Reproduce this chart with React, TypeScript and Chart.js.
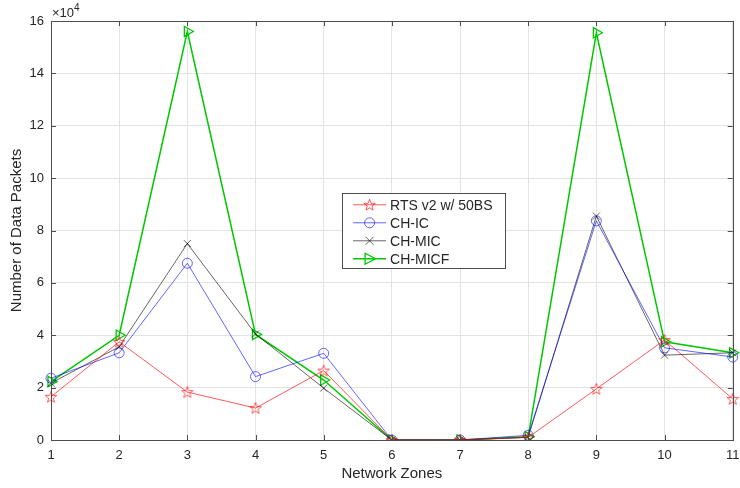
import React, { useEffect, useRef } from "react";
import { Chart, registerables } from "chart.js";
Chart.register(...registerables);

const zones = ["1", "2", "3", "4", "5", "6", "7", "8", "9", "10", "11"];
const rtsV2 = [1.65, 3.75, 1.83, 1.22, 2.65, 0, 0, 0.1, 1.95, 3.82, 1.57];
const chIC = [2.36, 3.33, 6.75, 2.42, 3.31, 0, 0, 0.18, 8.37, 3.52, 3.17];
const chMIC = [2.17, 3.56, 7.5, 4.05, 1.98, 0, 0, 0.1, 8.55, 3.24, 3.33];
const chMICF = [2.23, 4.0, 15.6, 4.03, 2.29, 0, 0, 0.12, 15.55, 3.75, 3.33];
const seriesNames = ["RTS v2 w/ 50BS", "CH-IC", "CH-MIC", "CH-MICF"];
const yMin = 0;
const yMax = 16;
const yStep = 2;

const FONT = "'Liberation Sans', Arial, Helvetica, sans-serif";
const TEXT = "#262626";
const RED = "rgba(255,0,0,0.65)";
const BLUE = "rgba(0,0,255,0.6)";
const BLACK = "rgba(0,0,0,0.6)";
const GREEN = "rgb(0,200,0)";

function starPath(ctx: CanvasRenderingContext2D, cx: number, cy: number, R: number, r: number) {
  ctx.beginPath();
  for (let i = 0; i < 10; i++) {
    const rad = i % 2 === 0 ? R : r;
    const a = -Math.PI / 2 + (i * Math.PI) / 5;
    const x = cx + rad * Math.cos(a);
    const y = cy + rad * Math.sin(a);
    if (i === 0) ctx.moveTo(x, y);
    else ctx.lineTo(x, y);
  }
  ctx.closePath();
}

function makeStarImage(color: string) {
  const c = document.createElement("canvas");
  c.width = 14;
  c.height = 14;
  const ctx = c.getContext("2d")!;
  ctx.strokeStyle = color;
  ctx.lineWidth = 1;
  starPath(ctx, 7, 7.5, 6, 2.5);
  ctx.stroke();
  return c;
}

function drawMarker(ctx: CanvasRenderingContext2D, kind: number, x: number, y: number, color: string) {
  ctx.save();
  ctx.strokeStyle = color;
  ctx.lineWidth = 1;
  if (kind === 0) {
    starPath(ctx, x, y + 0.5, 6, 2.5);
    ctx.stroke();
  } else if (kind === 1) {
    ctx.beginPath();
    ctx.arc(x, y, 5, 0, Math.PI * 2);
    ctx.stroke();
  } else if (kind === 2) {
    ctx.beginPath();
    ctx.moveTo(x - 4, y - 4);
    ctx.lineTo(x + 4, y + 4);
    ctx.moveTo(x + 4, y - 4);
    ctx.lineTo(x - 4, y + 4);
    ctx.stroke();
  } else {
    ctx.lineWidth = 1.3;
    ctx.beginPath();
    ctx.moveTo(x - 4.5, y - 5.5);
    ctx.lineTo(x + 6, y);
    ctx.lineTo(x - 4.5, y + 5.5);
    ctx.closePath();
    ctx.stroke();
  }
  ctx.restore();
}

const framePlugin = {
  id: "matlabFrame",
  afterDraw(chart: any) {
    const { ctx, chartArea } = chart;
    const { left, right, top, bottom } = chartArea;
    const xs = chart.scales.x;
    const ys = chart.scales.y;
    ctx.save();
    ctx.strokeStyle = "#4d4d4d";
    ctx.lineWidth = 1;
    ctx.strokeRect(Math.round(left) + 0.5, Math.round(top) + 0.5, Math.round(right - left), Math.round(bottom - top));
    ctx.beginPath();
    const tl = 5;
    for (let i = 0; i < zones.length; i++) {
      const px = Math.round(xs.getPixelForValue(i)) + 0.5;
      ctx.moveTo(px, bottom);
      ctx.lineTo(px, bottom - tl);
      ctx.moveTo(px, top);
      ctx.lineTo(px, top + tl);
    }
    for (let v = yMin; v <= yMax; v += yStep) {
      const py = Math.round(ys.getPixelForValue(v)) + 0.5;
      ctx.moveTo(left, py);
      ctx.lineTo(left + tl, py);
      ctx.moveTo(right, py);
      ctx.lineTo(right - tl, py);
    }
    ctx.stroke();

    // exponent label
    ctx.fillStyle = TEXT;
    ctx.textBaseline = "alphabetic";
    ctx.textAlign = "left";
    ctx.font = `13px ${FONT}`;
    ctx.fillText("\u00d710", left + 1, top - 4);
    const w = ctx.measureText("\u00d710").width;
    ctx.font = `10px ${FONT}`;
    ctx.fillText("4", left + 1 + w, top - 10);

    // legend
    const colors = [RED, BLUE, BLACK, GREEN];
    const bx = left + (right - left) * 0.427;
    const by = top + (bottom - top) * 0.41;
    const bw = 163;
    const bh = 75;
    ctx.fillStyle = "#ffffff";
    ctx.fillRect(bx, by, bw, bh);
    ctx.strokeStyle = "#4d4d4d";
    ctx.lineWidth = 1;
    ctx.strokeRect(Math.round(bx) + 0.5, Math.round(by) + 0.5, bw, bh);
    ctx.font = `14px ${FONT}`;
    ctx.textBaseline = "middle";
    for (let i = 0; i < seriesNames.length; i++) {
      const ry = by + 12 + i * 18;
      ctx.strokeStyle = colors[i];
      ctx.lineWidth = i === 3 ? 1.5 : 1;
      ctx.beginPath();
      ctx.moveTo(bx + 11, ry);
      ctx.lineTo(bx + 44, ry);
      ctx.stroke();
      drawMarker(ctx, i, bx + 27.5, ry, colors[i]);
      ctx.fillStyle = TEXT;
      ctx.fillText(seriesNames[i], bx + 48, ry + 1);
    }
    ctx.restore();
  },
};

export default function App() {
  const ref = useRef<HTMLCanvasElement | null>(null);
  useEffect(() => {
    document.body.style.margin = "0";
    const canvas = ref.current!;
    const starImg = makeStarImage(RED);
    const chart = new Chart(canvas, {
      type: "line",
      data: {
        labels: zones,
        datasets: [
          {
            label: seriesNames[0],
            data: rtsV2,
            borderColor: RED,
            borderWidth: 1,
            pointStyle: starImg as any,
            pointRadius: 6,
            fill: false,
            tension: 0,
          },
          {
            label: seriesNames[1],
            data: chIC,
            borderColor: BLUE,
            borderWidth: 1,
            pointStyle: "circle",
            pointRadius: 5,
            pointBackgroundColor: "rgba(0,0,0,0)",
            pointBorderColor: BLUE,
            pointBorderWidth: 1,
            fill: false,
            tension: 0,
          },
          {
            label: seriesNames[2],
            data: chMIC,
            borderColor: BLACK,
            borderWidth: 1,
            pointStyle: "crossRot",
            pointRadius: 5,
            pointBorderColor: BLACK,
            pointBorderWidth: 1,
            fill: false,
            tension: 0,
          },
          {
            label: seriesNames[3],
            data: chMICF,
            borderColor: GREEN,
            borderWidth: 1.5,
            pointStyle: "triangle",
            pointRotation: 90,
            pointRadius: 6,
            pointBackgroundColor: "rgba(0,0,0,0)",
            pointBorderColor: GREEN,
            pointBorderWidth: 1.3,
            fill: false,
            tension: 0,
          },
        ],
      },
      options: {
        animation: false,
        responsive: false,
        maintainAspectRatio: false,
        events: [],
        layout: { padding: { left: 0, right: 1, top: 21, bottom: 0 } },
        plugins: {
          legend: { display: false },
          tooltip: { enabled: false },
          title: { display: false },
        },
        scales: {
          x: {
            type: "category",
            offset: false,
            grid: { color: "#e3e3e3", drawTicks: false, lineWidth: 1 },
            border: { display: false },
            ticks: { color: TEXT, font: { family: FONT, size: 13 }, padding: 8, maxRotation: 0, autoSkip: false },
            title: {
              display: true,
              text: "Network Zones",
              color: TEXT,
              font: { family: FONT, size: 15 },
              padding: { top: 0, bottom: 5 },
            },
            afterFit: (s: any) => {
              s.height = 48;
              s.paddingLeft = 0;
              s.paddingRight = 0;
            },
          },
          y: {
            type: "linear",
            min: yMin,
            max: yMax,
            grid: { color: "#e3e3e3", drawTicks: false, lineWidth: 1 },
            border: { display: false },
            ticks: { stepSize: yStep, color: TEXT, font: { family: FONT, size: 13 }, padding: 7 },
            title: {
              display: true,
              text: "Number of Data Packets",
              color: TEXT,
              font: { family: FONT, size: 15 },
              padding: { top: 8, bottom: 0 },
            },
            afterFit: (s: any) => {
              s.width = 51;
              s.paddingTop = 0;
              s.paddingBottom = 0;
            },
          },
        },
      },
      plugins: [framePlugin],
    });
    return () => chart.destroy();
  }, []);
  return (
    <div style={{ width: 740, height: 488, background: "#fff" }}>
      <canvas ref={ref} width={740} height={488} style={{ display: "block", width: 740, height: 488 }} />
    </div>
  );
}
